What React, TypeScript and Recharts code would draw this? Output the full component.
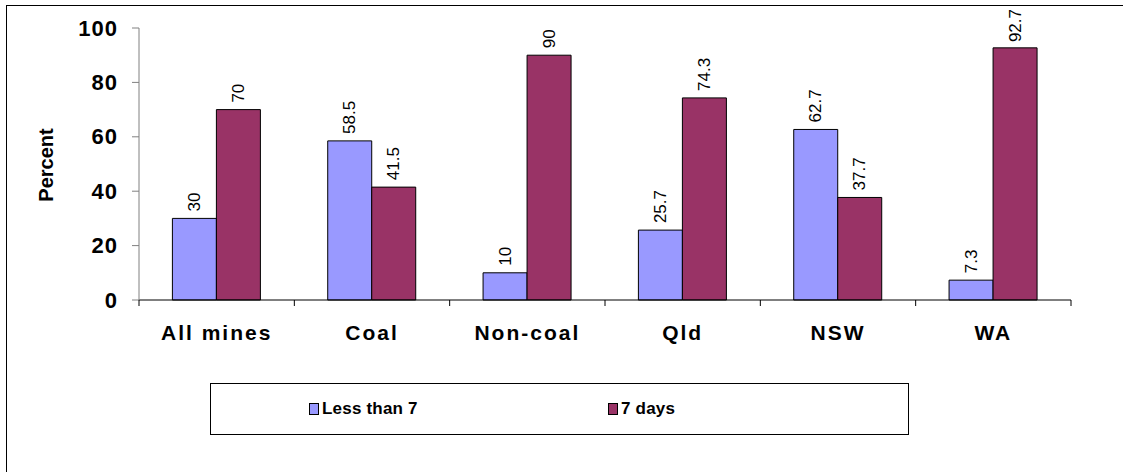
import React from 'react';
import { BarChart, Bar, XAxis, YAxis, LabelList } from 'recharts';

// Share of mines by roster length
const categories = ['All mines', 'Coal', 'Non-coal', 'Qld', 'NSW', 'WA'];
const lessThan7 = [30, 58.5, 10, 25.7, 62.7, 7.3];
const sevenDays = [70, 41.5, 90, 74.3, 37.7, 92.7];
const seriesNames = ['Less than 7', '7 days'];
const seriesColors = ['#9999FF', '#993366'];
const yTicks = [0, 20, 40, 60, 80, 100];

const data = categories.map((category, i) => ({
  category,
  less: lessThan7[i],
  seven: sevenDays[i],
}));

const W = 1123;
const H = 472;
const PLOT_LEFT = 139;
const PLOT_RIGHT = 1071;
const PLOT_TOP = 28;
const PLOT_BOTTOM = 300;
const Y_AXIS_W = 100;
const X_AXIS_H = 40;
const BAND = (PLOT_RIGHT - PLOT_LEFT) / categories.length;
const FONT = 'Arial, "Liberation Sans", sans-serif';

function CategoryTick(props: any) {
  const { x, y, payload, index } = props;
  const left = x - BAND / 2;
  const right = x + BAND / 2;
  return (
    <g>
      <line x1={left} x2={left} y1={y} y2={y + 6} stroke="#000" strokeWidth={1} />
      {index === categories.length - 1 && (
        <line x1={right} x2={right} y1={y} y2={y + 6} stroke="#000" strokeWidth={1} />
      )}
      <text
        x={x}
        y={y + 40}
        textAnchor="middle"
        fontFamily={FONT}
        fontWeight="bold"
        fontSize={21}
        letterSpacing={2}
        fill="#000"
      >
        {payload.value}
      </text>
    </g>
  );
}

function ValueTick(props: any) {
  const { x, y, payload } = props;
  return (
    <text
      x={x}
      y={y}
      textAnchor="end"
      dominantBaseline="central"
      fontFamily={FONT}
      fontWeight="bold"
      fontSize={22}
      letterSpacing={1}
      fill="#000"
    >
      {payload.value}
    </text>
  );
}

function textLength(text: string, fontSize: number) {
  let em = 0;
  for (const ch of text) em += ch === '.' ? 0.278 : 0.556;
  return em * fontSize;
}

function VerticalValue(props: any) {
  const { x, y, width, value } = props;
  const fontSize = 17;
  const text = String(value);
  const cx = x + width / 2;
  // keep the label inside the chart frame
  const ty = Math.max(y - 7, 9 + textLength(text, fontSize));
  return (
    <text
      x={cx}
      y={ty}
      transform={`rotate(-90 ${cx} ${ty})`}
      textAnchor="start"
      dominantBaseline="central"
      fontFamily={FONT}
      fontSize={fontSize}
      fill="#000"
    >
      {text}
    </text>
  );
}

function PercentLabel() {
  const cx = 46;
  const cy = 165;
  return (
    <text
      x={cx}
      y={cy}
      transform={`rotate(-90 ${cx} ${cy})`}
      textAnchor="middle"
      dominantBaseline="central"
      fontFamily={FONT}
      fontWeight="bold"
      fontSize={20}
      fill="#000"
    >
      Percent
    </text>
  );
}

function LegendBox() {
  const items = [
    { left: 98, name: seriesNames[0], color: seriesColors[0] },
    { left: 397, name: seriesNames[1], color: seriesColors[1] },
  ];
  return (
    <div
      style={{
        position: 'absolute',
        left: 210,
        top: 383,
        width: 699,
        height: 52,
        boxSizing: 'border-box',
        border: '1px solid #000',
        background: '#fff',
      }}
    >
      {items.map((it) => (
        <React.Fragment key={it.name}>
          <div
            style={{
              position: 'absolute',
              left: it.left,
              top: 19,
              width: 10,
              height: 12,
              boxSizing: 'border-box',
              border: '1px solid #000',
              background: it.color,
            }}
          />
          <div
            style={{
              position: 'absolute',
              left: it.left + 13,
              top: 16,
              fontFamily: FONT,
              fontWeight: 'bold',
              fontSize: 17,
              lineHeight: '17px',
              letterSpacing: 0.2,
              whiteSpace: 'nowrap',
              color: '#000',
            }}
          >
            {it.name}
          </div>
        </React.Fragment>
      ))}
    </div>
  );
}

export default function App() {
  return (
    <div
      style={{
        position: 'absolute',
        left: 0,
        top: 0,
        width: W,
        height: H,
        background: '#fff',
        overflow: 'hidden',
      }}
    >
      <div
        style={{
          position: 'absolute',
          left: 6,
          top: 5,
          width: W,
          height: H,
          borderLeft: '1px solid #000',
          borderTop: '1px solid #000',
        }}
      />
      <BarChart
        width={W}
        height={H}
        data={data}
        margin={{
          top: PLOT_TOP,
          right: W - PLOT_RIGHT,
          left: PLOT_LEFT - Y_AXIS_W,
          bottom: H - PLOT_BOTTOM - X_AXIS_H,
        }}
        barCategoryGap="21.5%"
        barGap={0}
        style={{ position: 'absolute', left: 0, top: 0 }}
      >
        <XAxis
          dataKey="category"
          height={X_AXIS_H}
          axisLine={{ stroke: '#000', strokeWidth: 1 }}
          tickLine={false}
          tickSize={0}
          tickMargin={0}
          tick={<CategoryTick />}
          interval={0}
        />
        <YAxis
          width={Y_AXIS_W}
          domain={[0, 100]}
          ticks={yTicks}
          interval={0}
          axisLine={{ stroke: '#808080', strokeWidth: 1 }}
          tickLine={{ stroke: '#808080', strokeWidth: 1 }}
          tickSize={7}
          tickMargin={14}
          tick={<ValueTick />}
          label={<PercentLabel />}
        />
        <Bar dataKey="less" name={seriesNames[0]} fill={seriesColors[0]} stroke="#000" strokeWidth={1} isAnimationActive={false}>
          <LabelList dataKey="less" content={<VerticalValue />} />
        </Bar>
        <Bar dataKey="seven" name={seriesNames[1]} fill={seriesColors[1]} stroke="#000" strokeWidth={1} isAnimationActive={false}>
          <LabelList dataKey="seven" content={<VerticalValue />} />
        </Bar>
      </BarChart>
      <LegendBox />
    </div>
  );
}
